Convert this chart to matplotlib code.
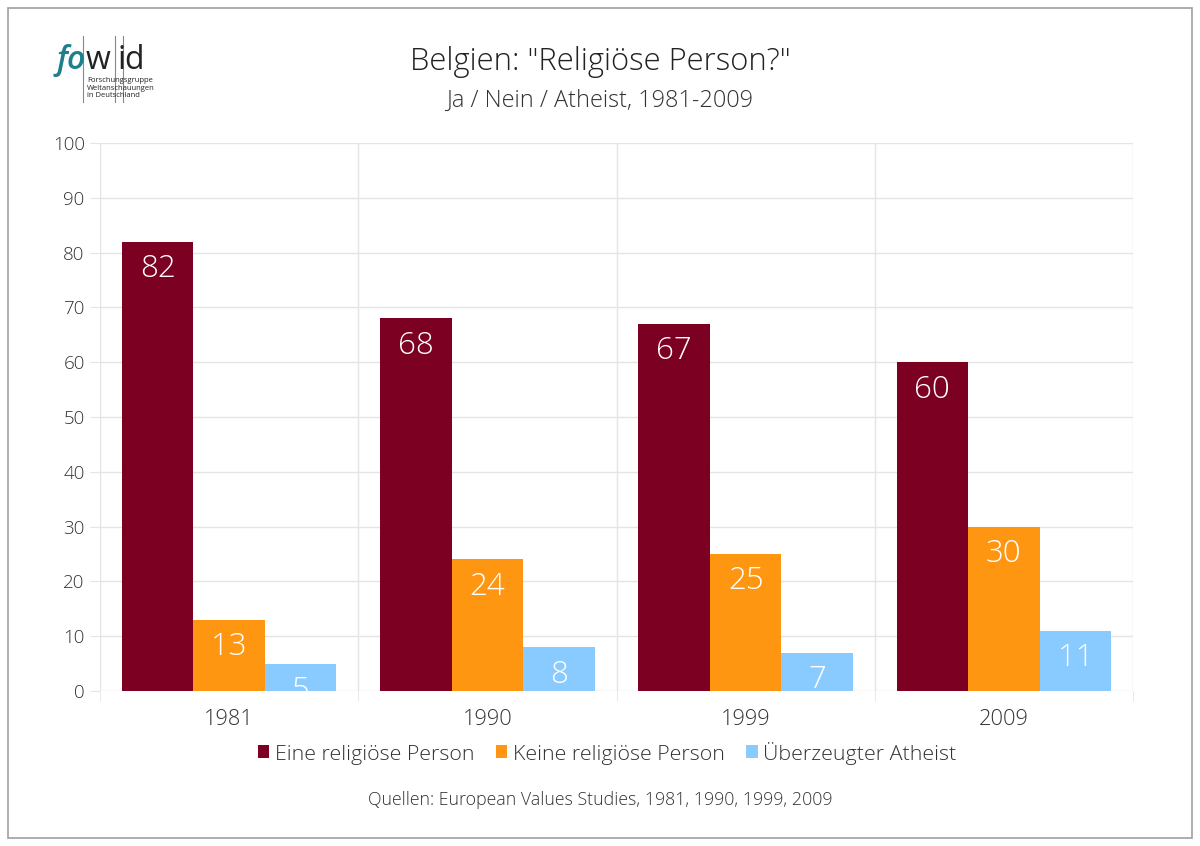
import numpy as np
import matplotlib.pyplot as plt
from matplotlib.patches import Rectangle

plt.rcParams['font.family'] = ['Open Sans', 'DejaVu Sans']
plt.rcParams['font.weight'] = 'light'

years = ['1981', '1990', '1999', '2009']
series = ['Eine religiöse Person', 'Keine religiöse Person', 'Überzeugter Atheist']
religious = [82, 68, 67, 60]
not_religious = [13, 24, 25, 30]
atheist = [5, 8, 7, 11]
colors = ['#7b0021', '#ff9612', '#89caff']

fig = plt.figure(figsize=(12, 8.46), dpi=100)
# outer frame
fig.patches.append(Rectangle((8 / 1200, 8 / 846), 1184 / 1200, 830 / 846,
                             transform=fig.transFigure, fill=False,
                             edgecolor='#a0a0a0', linewidth=1.2))

ax = fig.add_axes([100 / 1200, 1 - 691 / 846, 1033 / 1200, 548 / 846])
x = np.arange(len(years))
w = 0.277
grid_c = '#e4e4e4'

for i, (vals, col) in enumerate(zip([religious, not_religious, atheist], colors)):
    pos = x + (i - 1) * w
    ax.bar(pos, vals, width=w, color=col, label=series[i], zorder=3)
    for p, v in zip(pos, vals):
        ax.text(p, v - 5.0, str(v), ha='center', va='center', color='white',
                fontsize=22.5, zorder=4, clip_on=True)

ax.set_xlim(-0.5, len(years) - 0.5)
ax.set_ylim(0, 100)
ax.set_yticks(range(0, 101, 10))
ax.set_xticks(x)
ax.set_xticklabels(years)
ax.set_xticks(np.arange(-0.5, len(years), 1), minor=True)
ax.grid(axis='y', color=grid_c, linewidth=1, zorder=0)
ax.grid(axis='x', which='minor', color=grid_c, linewidth=1, zorder=0)
for s in ax.spines.values():
    s.set_visible(False)
ax.tick_params(axis='y', length=7, color=grid_c, labelsize=13.5, labelcolor='#333333', pad=4)
ax.tick_params(axis='x', which='major', length=0, labelsize=15.7, labelcolor='#333333', pad=13)
ax.tick_params(axis='x', which='minor', length=7, color=grid_c)

fig.legend(*ax.get_legend_handles_labels(), loc='center', bbox_to_anchor=(607 / 1200, 1 - 753 / 846),
           ncol=3, frameon=False, fontsize=15.4, handlelength=0.55, handleheight=0.55,
           handletextpad=0.25, columnspacing=1.0, labelcolor='#333333')

fig.text(0.5, 1 - 62 / 846, 'Belgien: "Religiöse Person?"', ha='center', va='center',
         fontsize=22.3, color='#222222')
fig.text(0.5, 1 - 101 / 846, 'Ja / Nein / Atheist, 1981-2009', ha='center', va='center',
         fontsize=16.9, color='#333333')
fig.text(0.5, 1 - 800 / 846, 'Quellen: European Values Studies, 1981, 1990, 1999, 2009',
         ha='center', va='center', fontsize=12.8, color='#333333')

# logo
base = 1 - 69 / 846
fig.text(57 / 1200, base, 'fo', fontsize=23, color='#1d7f8c', fontweight='semibold',
         style='italic', va='baseline', ha='left')
fig.text(86 / 1200, base, 'w', fontsize=23, color='#222222', fontweight='normal',
         va='baseline', ha='left')
fig.text(117 / 1200, base, 'i', fontsize=23, color='#222222', fontweight='normal',
         va='baseline', ha='left')
fig.text(124 / 1200, base, 'd', fontsize=23, color='#222222', fontweight='normal',
         va='baseline', ha='left')
for lx in [83, 115, 123]:
    fig.add_artist(plt.Line2D([lx / 1200, lx / 1200], [1 - 36 / 846, 1 - 102 / 846],
                              transform=fig.transFigure, color='#888888', linewidth=0.8))
fig.text(87 / 1200, 1 - 88 / 846, 'Forschungsgruppe\nWeltanschauungen\nin Deutschland',
         fontsize=5.5, color='#222222', fontweight='normal', va='center', ha='left',
         linespacing=1.1)

fig.savefig('out.png', dpi=100)
